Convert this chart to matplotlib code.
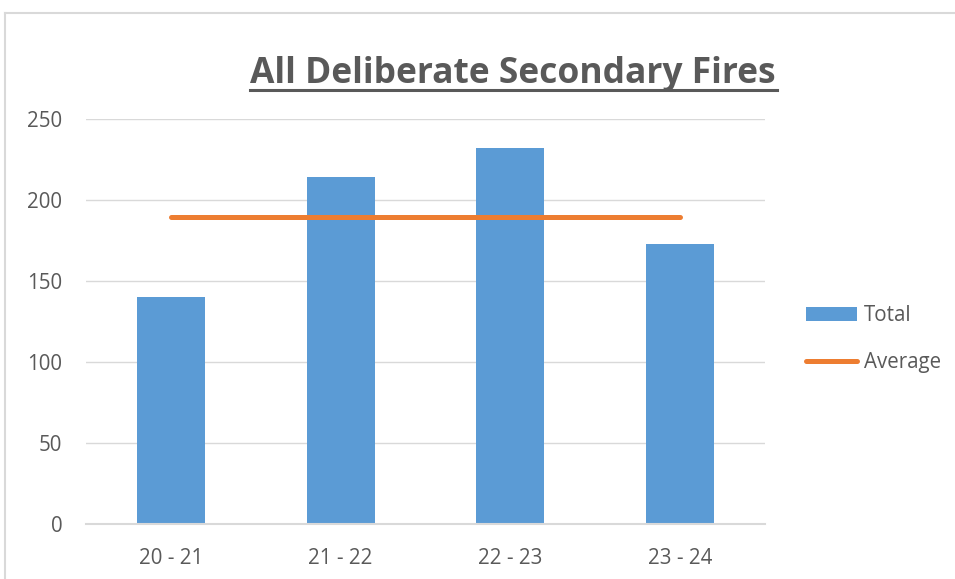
import matplotlib
matplotlib.use("Agg")
import matplotlib.pyplot as plt
from matplotlib.lines import Line2D

categories = ["20 - 21", "21 - 22", "22 - 23", "23 - 24"]
totals = [140, 214, 232, 173]
average = sum(totals) / len(totals)
yticks = [0, 50, 100, 150, 200, 250]

plt.rcParams['font.family'] = ['Open Sans', 'DejaVu Sans']
W, H = 955, 579
fig = plt.figure(figsize=(W / 100, H / 100), dpi=100)
fig.patch.set_facecolor("white")

ax = fig.add_axes([86 / W, (H - 524) / H, (765 - 86) / W, (524 - 119) / H])
x = list(range(len(categories)))
bars = ax.bar(x, totals, width=0.4, color="#5b9bd5", zorder=2, label="Total")
line, = ax.plot([x[0], x[-1]], [average] * 2, color="#ed7d31", lw=3.6,
                solid_capstyle="round", zorder=3, label="Average")

ax.set_xlim(-0.5, len(categories) - 0.5)
ax.set_ylim(0, 250)
ax.set_yticks(yticks)
ax.set_xticks(x)
ax.set_xticklabels(categories)
ax.grid(axis="y", color="#d9d9d9", lw=1, zorder=0)
ax.set_axisbelow(True)
for s in ["top", "right", "left"]:
    ax.spines[s].set_visible(False)
ax.spines["bottom"].set_color("#d9d9d9")
ax.spines["bottom"].set_linewidth(1.5)
ax.tick_params(axis="both", length=0, labelsize=14.8, colors="#595959")
ax.tick_params(axis="y", pad=17)
ax.tick_params(axis="x", pad=17)

fig.text(513 / W, 1 - 83 / H, "All Deliberate Secondary Fires", ha="center",
         va="baseline", fontsize=25.5, fontweight="bold", color="#595959")
fig.add_artist(Line2D([250 / W, 777 / W], [1 - 90 / H] * 2, color="#595959", lw=2.2))

leg = fig.legend([bars, line], ["Total", "Average"], loc="center left",
                 bbox_to_anchor=(806 / W, 1 - 339 / H), frameon=False,
                 fontsize=14.8, handlelength=2.5, labelspacing=1.25,
                 handletextpad=0.3, borderpad=0, borderaxespad=0)
for t in leg.get_texts():
    t.set_color("#595959")

# chart border
fig.add_artist(Line2D([5 / W, 1], [1 - 13 / H] * 2, color="#d9d9d9", lw=1.5))
fig.add_artist(Line2D([5 / W] * 2, [0, 1 - 13 / H], color="#d9d9d9", lw=1.5))

fig.savefig("out.png", dpi=100)
